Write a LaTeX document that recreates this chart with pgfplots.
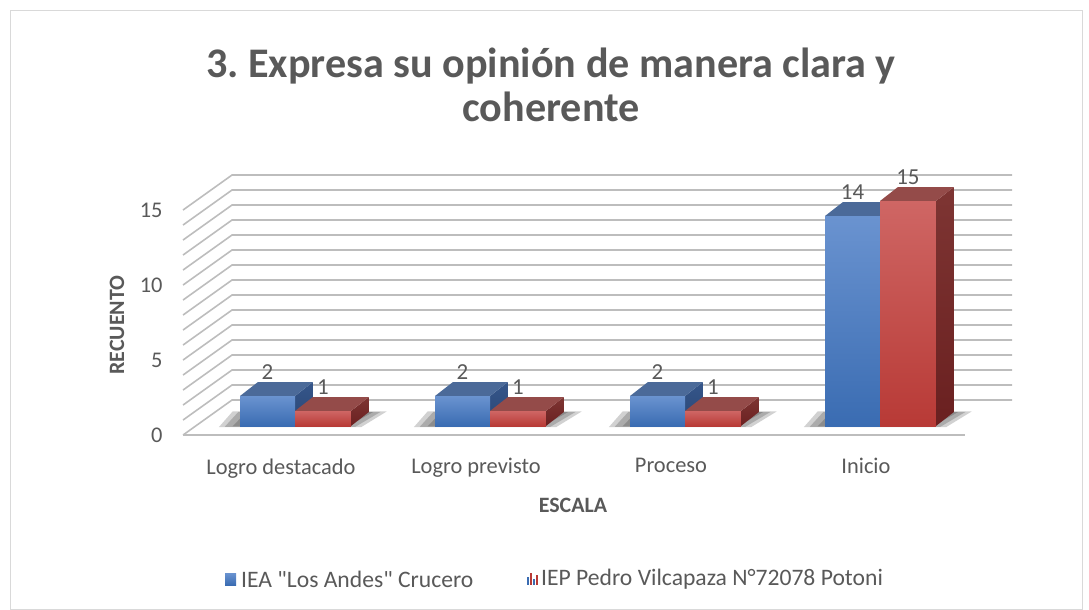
\documentclass[border=0pt]{standalone}
\usepackage{fontspec}
\setmainfont{Carlito}[Ligatures=TeXOff]
\usepackage{pgfplots}
\pgfplotsset{compat=1.18}
\definecolor{txt}{HTML}{595959}
\definecolor{bF1}{HTML}{6A93D0}
\definecolor{bF2}{HTML}{3A6CB2}
\definecolor{bT}{HTML}{4B6A99}
\definecolor{bS1}{HTML}{35568A}
\definecolor{bS2}{HTML}{2A4674}
\definecolor{rF1}{HTML}{CF6664}
\definecolor{rF2}{HTML}{B83A36}
\definecolor{rT}{HTML}{944B49}
\definecolor{rS1}{HTML}{7E3533}
\definecolor{rS2}{HTML}{6A2020}
\definecolor{gridc}{HTML}{BDBDBD}
\definecolor{borderc}{HTML}{D9D9D9}

% #1 left x, #2 right x, #3 value, #4 colour prefix
\newcommand{\tdbar}[4]{%
  \pgfmathsetmacro{\xa}{#1}\pgfmathsetmacro{\xb}{#2}%
  \pgfmathsetmacro{\xab}{#1+0.092}\pgfmathsetmacro{\xbb}{#2+0.092}%
  \pgfmathsetmacro{\vt}{#3+0.933}\pgfmathsetmacro{\xm}{(#1+#2)/2}%
  \addplot[draw=none, top color=#4S1, bottom color=#4S2] coordinates {(\xb,0) (\xb,#3) (\xbb,\vt) (\xbb,0.933)} --cycle;
  \addplot[draw=none, fill=#4T] coordinates {(\xa,#3) (\xb,#3) (\xbb,\vt) (\xab,\vt)} --cycle;
  \addplot[draw=none, top color=#4F1, bottom color=#4F2] coordinates {(\xa,0) (\xb,0) (\xb,#3) (\xa,#3)} --cycle;
  \addplot[draw=none, nodes near coords, point meta=explicit symbolic,
    every node near coord/.style={font=\fontsize{23}{26}\selectfont, text=txt, anchor=south, inner sep=1bp, yshift=1bp}]
    coordinates {(\xm,\vt)[#3]};
}
% soft shadow under a pair of bars; #1 = category centre, #2 = growth
\newcommand{\shadowlayer}[2]{%
  \pgfmathsetmacro{\sa}{#1-0.36-#2}\pgfmathsetmacro{\sb}{#1+0.31+#2}%
  \pgfmathsetmacro{\sc}{#1+0.44+#2}\pgfmathsetmacro{\sd}{#1-0.29-#2}%
  \pgfmathsetmacro{\yf}{-0.05-#2*0.6}\pgfmathsetmacro{\yk}{0.95+#2*0.6}%
  \addplot[draw=none, fill=black, fill opacity=0.18] coordinates {(\sa,\yf) (\sb,\yf) (\sc,\yk) (\sd,\yk)} --cycle;
}
\newcommand{\shadow}[1]{\shadowlayer{#1}{0.03}\shadowlayer{#1}{0}\shadowlayer{#1}{-0.04}\shadowlayer{#1}{-0.08}}

\begin{document}
\begin{tikzpicture}
\useasboundingbox (0,0) rectangle (1089bp,-610bp);
\draw[borderc, line width=1bp] (10.5bp,-10.5bp) rectangle (1082.5bp,-609bp);

\node[font=\fontsize{42.3}{45}\selectfont\bfseries, text=txt, anchor=base] at (551bp,-77bp) {3.\ Expresa su opinión de manera clara y};
\node[font=\fontsize{42.3}{45}\selectfont\bfseries, text=txt, anchor=base] at (551bp,-121bp) {coherente};

\begin{axis}[
  x=195bp, y=15bp, anchor=origin, at={(295bp,-426bp)},
  xmin=-0.574, xmax=3.677, ymin=-0.6, ymax=16.733,
  clip=false,
  axis line style={draw=none}, tick style={draw=none},
  ytick={-0.6,4.4,9.4,14.4}, yticklabels={0,5,10,15},
  xtick={-0.072,0.928,1.928,2.928},
  xticklabels={Logro destacado,Logro previsto,Proceso,Inicio},
  ticklabel style={font=\fontsize{22.5}{26}\selectfont, text=txt},
  yticklabel style={xshift=-17bp},
  xticklabel style={yshift=-20bp},
  /pgf/number format/assume math mode=true,
]
% back wall and side wall gridlines
\pgfplotsinvokeforeach{0,...,15}{%
  \pgfmathsetmacro{\ya}{-0.6+#1}\pgfmathsetmacro{\yb}{1.733+#1}%
  \addplot[gridc, line width=1.6bp] coordinates {(-0.574,\ya) (-0.323,\yb) (3.677,\yb)};
}
% floor front edge
\addplot[gridc, line width=1.6bp] coordinates {(-0.574,-0.6) (3.436,-0.6)};

% shadows
\shadow{0}
\shadow{1}
\shadow{2}
\shadow{3}

% bars: IEA "Los Andes" Crucero (blue) and IEP Pedro Vilcapaza (red)
\tdbar{-0.282}{0}{2}{b}
\tdbar{0}{0.287}{1}{r}
\tdbar{0.718}{1}{2}{b}
\tdbar{1}{1.287}{1}{r}
\tdbar{1.718}{2}{2}{b}
\tdbar{2}{2.287}{1}{r}
\tdbar{2.718}{3}{14}{b}
\tdbar{3}{3.287}{15}{r}
\end{axis}

\node[font=\fontsize{22}{26}\selectfont\bfseries, text=txt, rotate=90] at (117bp,-325bp) {RECUENTO};
\node[font=\fontsize{22}{26}\selectfont\bfseries, text=txt] at (573bp,-505bp) {ESCALA};

% legend
\fill[top color=bF1, bottom color=bF2] (225bp,-573bp) rectangle (236bp,-585bp);
\node[font=\fontsize{23.7}{26}\selectfont, text=txt, anchor=west, inner sep=0pt] at (241bp,-579bp) {IEA "Los Andes" Crucero};
\fill[bF2] (527bp,-585bp) rectangle (529bp,-577bp);
\fill[rF2] (530bp,-585bp) rectangle (532bp,-573bp);
\fill[bF2] (533bp,-585bp) rectangle (535bp,-579bp);
\fill[rF2] (536bp,-585bp) rectangle (538bp,-575bp);
\node[font=\fontsize{23.7}{26}\selectfont, text=txt, anchor=west, inner sep=0pt] at (541bp,-579bp) {IEP Pedro Vilcapaza N°72078 Potoni};
\end{tikzpicture}
\end{document}
